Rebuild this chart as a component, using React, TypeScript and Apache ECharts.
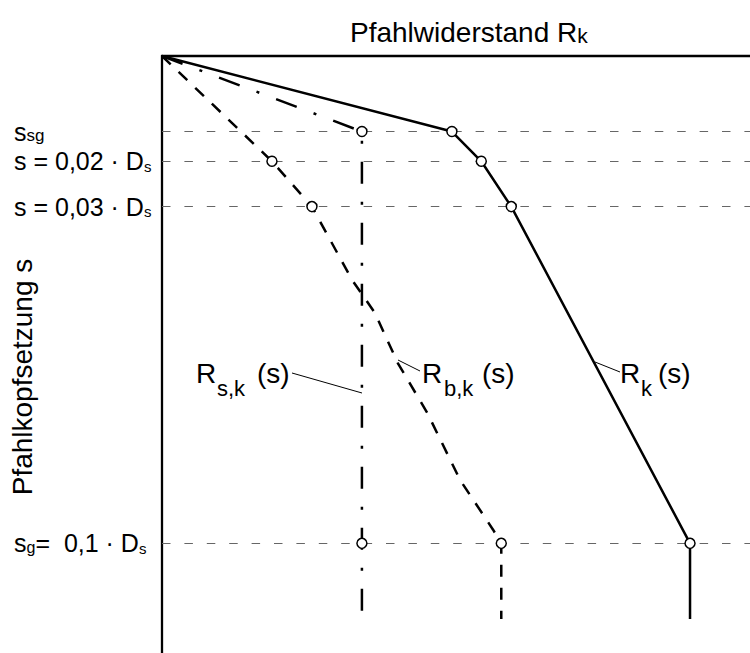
import React, { useEffect, useRef } from "react";
import * as echarts from "echarts";

const FONT = "'Liberation Sans', Arial, Helvetica, sans-serif";

// settlement levels (in units where 10 = 0,1·Ds)
const sLevels = [1.55, 2.16, 3.09, 10];
const sLevelLabels = [
  "{m|s}{g|sg}",
  "{m|s = 0,02 · D}{d|s}",
  "{m|s = 0,03 · D}{d|s}",
  "{m|s}{h|g}{m|=  0,1 · D}{d|s}",
];

// R_k(s) – total resistance
const rkS = [0, 1.55, 2.16, 3.09, 10, 11.55];
const rkR = [0, 49.3, 54.3, 59.4, 89.8, 89.8];
const rkMarks = [1, 2, 3, 4];

// R_s,k(s) – shaft resistance
const rskS = [0, 1.55, 10, 11.55];
const rskR = [0, 34.0, 34.0, 34.0];
const rskMarks = [1, 2];

// R_b,k(s) – base resistance
const rbkS = [0, 2.16, 3.09, 4.59, 5.27, 6.3, 7.32, 8.7, 9.72, 10, 11.55];
const rbkR = [0, 18.7, 25.5, 32.3, 36.2, 40.1, 45.1, 50.7, 56.3, 57.7, 57.7];
const rbkMarks = [1, 2, 9];

const zip = (r: number[], s: number[]) => r.map((v, i) => [v, s[i]]);
const pick = (r: number[], s: number[], idx: number[]) => idx.map((i) => [r[i], s[i]]);

export default function App() {
  const ref = useRef<HTMLDivElement>(null);
  useEffect(() => {
    document.body.style.margin = "0";
    if (!ref.current) return;
    const chart = echarts.init(ref.current, undefined, { renderer: "svg" });
    const black = "#000";
    const subLabel = (x: number, y: number, parts: { t: string; dx: number; sub?: boolean }[]) =>
      parts.map((p) => ({
        type: "text",
        x: x + p.dx,
        y: p.sub ? y + 15 : y,
        style: {
          text: p.t,
          font: `${p.sub ? 22 : 28}px ${FONT}`,
          fill: black,
          textAlign: "left",
          textVerticalAlign: "middle",
        },
      }));
    const option: any = {
      animation: false,
      backgroundColor: "#fff",
      title: {
        text: "{a|Pfahlwiderstand R}{b|k}",
        left: 345,
        top: 13,
        textStyle: {
          fontWeight: "normal",
          rich: {
            a: { fontSize: 28, lineHeight: 28, fontFamily: FONT, fontWeight: "normal", color: black, verticalAlign: "middle" },
            b: { fontSize: 21, lineHeight: 13, fontFamily: FONT, fontWeight: "normal", color: black, verticalAlign: "bottom" },
          },
        },
      },
      grid: { left: 162, top: 56, right: 0, bottom: 0 },
      xAxis: {
        type: "value",
        position: "top",
        min: 0,
        max: 100,
        axisLine: { show: true, lineStyle: { color: black, width: 2.3 } },
        axisTick: { show: false },
        axisLabel: { show: false },
        splitLine: { show: false },
      },
      yAxis: {
        type: "value",
        inverse: true,
        min: 0,
        max: 12.25,
        axisLine: { show: true, onZero: false, lineStyle: { color: black, width: 2.3 } },
        axisTick: { show: false },
        splitLine: { show: false },
        axisLabel: {
          customValues: sLevels,
          showMinLabel: true,
          showMaxLabel: true,
          hideOverlap: false,
          align: "left",
          margin: 148,
          formatter: (v: number) => {
            const i = sLevels.findIndex((s) => Math.abs(s - v) < 1e-6);
            return i >= 0 ? sLevelLabels[i] : "";
          },
          rich: {
            m: { fontSize: 25, lineHeight: 25, fontFamily: FONT, color: black, verticalAlign: "middle" },
            g: { fontSize: 17, lineHeight: 5, fontFamily: FONT, color: black, verticalAlign: "bottom" },
            h: { fontSize: 16, lineHeight: 9, fontFamily: FONT, color: black, verticalAlign: "bottom" },
            d: { fontSize: 15, lineHeight: 15, fontFamily: FONT, color: black, verticalAlign: "bottom" },
          },
        },
      },
      graphic: [
        {
          type: "text",
          x: 22,
          y: 377,
          rotation: Math.PI / 2,
          style: {
            text: "Pfahlkopfsetzung s",
            font: `28px ${FONT}`,
            fill: black,
            textAlign: "center",
            textVerticalAlign: "middle",
          },
        },
        ...subLabel(196, 373, [
          { t: "R", dx: 0 },
          { t: "s,k", dx: 21, sub: true },
          { t: "(s)", dx: 61 },
        ]),
        ...subLabel(422, 373, [
          { t: "R", dx: 0 },
          { t: "b,k", dx: 22, sub: true },
          { t: "(s)", dx: 60 },
        ]),
        ...subLabel(620, 373, [
          { t: "R", dx: 0 },
          { t: "k", dx: 21, sub: true },
          { t: "(s)", dx: 38 },
        ]),
        { type: "line", shape: { x1: 292, y1: 373, x2: 362, y2: 393 }, style: { stroke: black, lineWidth: 1 } },
        { type: "line", shape: { x1: 398, y1: 360, x2: 420, y2: 371 }, style: { stroke: black, lineWidth: 1 } },
        { type: "line", shape: { x1: 595, y1: 362, x2: 620, y2: 372 }, style: { stroke: black, lineWidth: 1 } },
      ],
      series: [
        {
          type: "line",
          data: [],
          z: 1,
          markLine: {
            silent: true,
            symbol: ["none", "none"],
            label: { show: false },
            lineStyle: { color: "#666", width: 1.2, type: [8.5, 13.9] },
            data: sLevels.map((v) => ({ yAxis: v })),
          },
        },
        {
          type: "line",
          name: "Rk",
          data: zip(rkR, rkS),
          showSymbol: false,
          z: 3,
          lineStyle: { color: black, width: 2.5 },
        },
        {
          type: "line",
          name: "Rsk",
          data: zip(rskR, rskS),
          showSymbol: false,
          z: 3,
          lineStyle: { color: black, width: 2.5, type: [22, 18, 3, 18] },
        },
        {
          type: "line",
          name: "Rbk",
          data: zip(rbkR, rbkS),
          showSymbol: false,
          z: 3,
          lineStyle: { color: black, width: 2.5, type: [12, 11] },
        },
        {
          type: "scatter",
          data: [
            ...pick(rkR, rkS, rkMarks),
            ...pick(rskR, rskS, rskMarks),
            ...pick(rbkR, rbkS, rbkMarks),
          ],
          symbol: "circle",
          symbolSize: 10,
          z: 5,
          itemStyle: { color: "#fff", borderColor: black, borderWidth: 1.5, opacity: 1 },
        },
      ],
    };
    chart.setOption(option);
    return () => chart.dispose();
  }, []);
  return <div ref={ref} style={{ width: 750, height: 653 }} />;
}
